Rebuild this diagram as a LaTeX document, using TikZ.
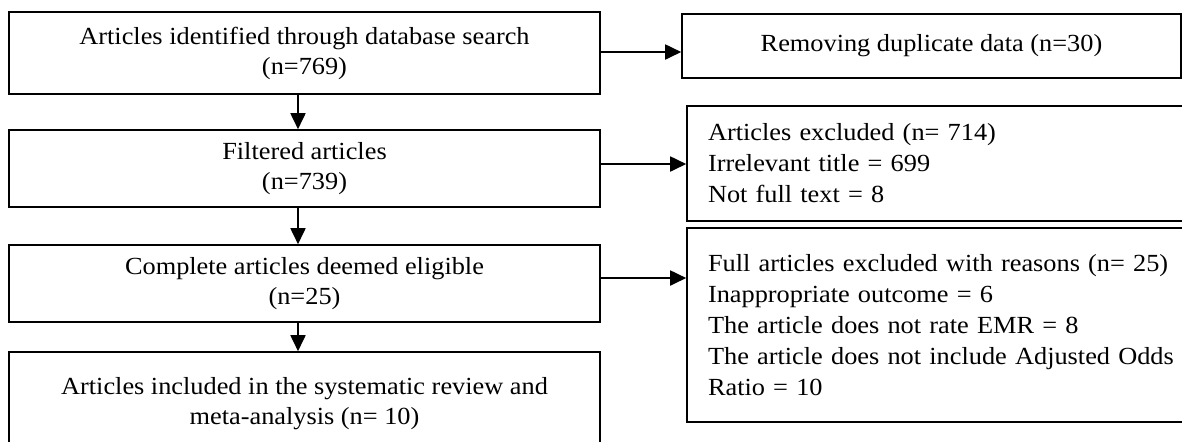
\documentclass[tikz,border=0pt]{standalone}
\usepackage{fontspec}
\setmainfont{Liberation Serif}[FakeStretch=1.07]
\usepackage{tikz}
\usetikzlibrary{arrows.meta,positioning,calc}

\begin{document}
\begin{tikzpicture}[x=0.5pt,y=-0.5pt,
    flowbox/.style={draw=black, line width=0.8pt, fill=white,
        inner sep=0pt, align=center,
        font=\fontsize{12.3}{15}\selectfont},
    notebox/.style={draw=black, line width=0.8pt, fill=white,
        inner xsep=10.5pt, inner ysep=0pt, align=left,
        text width=235.5pt,
        font=\fontsize{12.3}{15.5}\selectfont},
    flowarrow/.style={-{Triangle[length=8pt,width=7.5pt]}, line width=0.9pt}]

  \useasboundingbox (0,0) rectangle (1182,441);
  \clip (0,0) rectangle (1182,441);

  %% Left column: main flow
  \node[flowbox, minimum width=295.5pt, minimum height=41pt]
    (ident) at (304.5,53) {Articles identified through database search\\(n=769)};
  \node[flowbox, minimum width=295.5pt, minimum height=38.5pt]
    (filt) at (304.5,168.5) {Filtered articles\\(n=739)};
  \node[flowbox, minimum width=295.5pt, minimum height=38.5pt]
    (elig) at (304.5,283.5) {Complete articles deemed eligible\\(n=25)};
  \node[flowbox, minimum width=295.5pt, minimum height=52pt]
    (incl) at (304.5,404) {Articles included in the systematic review and\\meta-analysis (n= 10)};

  %% Right column: removed / excluded
  \node[flowbox, minimum width=249.5pt, minimum height=32pt]
    (dup) at (931.5,46) {Removing duplicate data (n=30)};
  \node[notebox, minimum height=57.5pt]
    (excl) at (943.5,163.5) {Articles excluded (n= 714)\\Irrelevant title = 699\\Not full text = 8\\[4pt]};
  \node[notebox, minimum height=97pt]
    (fullex) at (943.5,325) {Full articles excluded with reasons (n= 25)\\
      Inappropriate outcome = 6\\The article does not rate EMR = 8\\
      The article does not include Adjusted Odds\\Ratio = 10};

  %% Down arrows
  \coordinate (d1) at ([xshift=-3.25pt]ident.south);
  \coordinate (d2) at ([xshift=-3.25pt]filt.south);
  \coordinate (d3) at ([xshift=-3.25pt]elig.south);
  \draw[flowarrow] (d1) -- (d1 |- filt.north);
  \draw[flowarrow] (d2) -- (d2 |- elig.north);
  \draw[flowarrow] (d3) -- (d3 |- incl.north);

  %% Side arrows
  \coordinate (s1) at ([yshift=0.5pt]ident.east);
  \coordinate (s2) at ([yshift=2.25pt]filt.east);
  \coordinate (s3) at ([yshift=2.75pt]elig.east);
  \draw[flowarrow] (s1) -- (s1 -| dup.west);
  \draw[flowarrow] (s2) -- (s2 -| excl.west);
  \draw[flowarrow] (s3) -- (s3 -| fullex.west);

\end{tikzpicture}
\end{document}
